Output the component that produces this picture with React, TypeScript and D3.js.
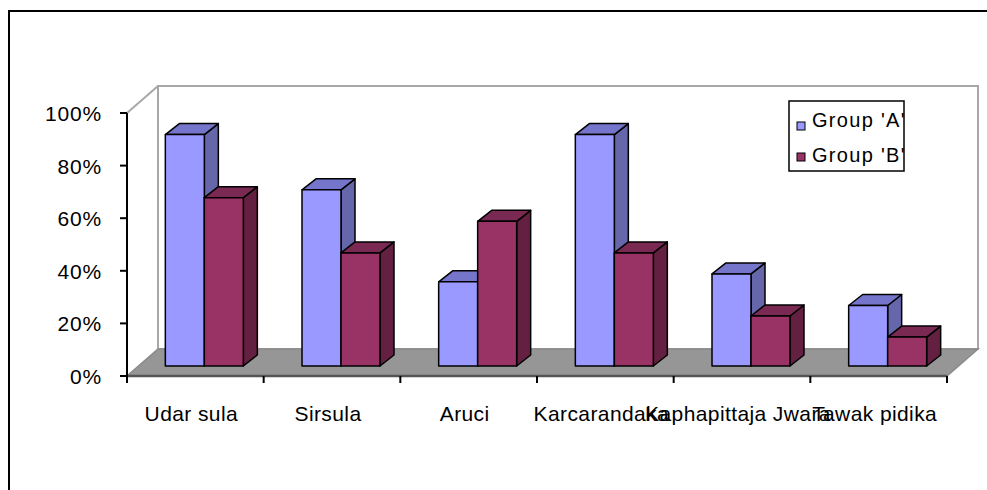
import React from "react"
import * as d3 from "d3"

const categories = ["Udar sula", "Sirsula", "Aruci", "Karcarandaka", "Kaphapittaja Jwara", "Tawak pidika"]
const groupA = [0.88, 0.67, 0.32, 0.88, 0.35, 0.23]
const groupB = [0.64, 0.43, 0.55, 0.43, 0.19, 0.11]
const seriesNames = ["Group 'A'", "Group 'B'"]
const yTicks = [0, 0.2, 0.4, 0.6, 0.8, 1]

const W = 987
const H = 490
const left = 127
const right = 947
const top = 113
const bottom = 376
// depth of the whole plot box
const depthX = 31
const depthY = -27
// where the bar fronts sit inside the depth, and the bar thickness
const barOffX = 9
const barOffY = -10
const barDX = 14
const barDY = -11
const groupWidth = 78

const colors = [
	{ front: "#9999FF", top: "#7575CC", side: "#6666AA" },
	{ front: "#993366", top: "#7A2952", side: "#632040" },
]

const font = "'Liberation Sans', Arial, sans-serif"

export default function App() {
	const x = d3.scaleBand().domain(categories).range([left, right]).padding(0)
	const y = d3.scaleLinear().domain([0, 1]).range([bottom, top])
	const inner = d3.scaleBand().domain(["0", "1"]).range([0, groupWidth]).padding(0)
	const pct = d3.format(".0%")

	const bars = []
	categories.forEach((c, i) => {
		const values = [groupA[i], groupB[i]]
		values.forEach((v, s) => {
			const bx = x(c) + (x.bandwidth() - groupWidth) / 2 + inner(String(s)) + barOffX
			const bw = inner.bandwidth()
			const t = y(v) + barOffY
			const b = y(0) + barOffY
			const col = colors[s]
			const pts = (arr) => arr.map(p => p.join(",")).join(" ")
			bars.push(
				<g key={c + s} stroke="#000" strokeWidth={1.5} strokeLinejoin="round">
					<polygon fill={col.side} points={pts([[bx + bw, t], [bx + bw + barDX, t + barDY], [bx + bw + barDX, b + barDY], [bx + bw, b]])} />
					<polygon fill={col.top} points={pts([[bx, t], [bx + barDX, t + barDY], [bx + bw + barDX, t + barDY], [bx + bw, t]])} />
					<rect x={bx} y={t} width={bw} height={b - t} fill={col.front} />
				</g>
			)
		})
	})

	const boundaries = [...categories.map(c => x(c)), right]

	return (
		<svg width={W} height={H} style={{ position: "absolute", left: 0, top: 0, background: "#fff" }}>
			<rect x={9} y={11} width={1000} height={500} fill="#fff" stroke="#000" strokeWidth={2} />

			{/* walls */}
			<rect x={left + depthX} y={top + depthY} width={right - left} height={bottom - top} fill="#fff" stroke="#a8a8a8" strokeWidth={2} />
			<line x1={left} y1={top} x2={left + depthX} y2={top + depthY} stroke="#a8a8a8" strokeWidth={2} />
			<polygon
				points={`${left},${bottom} ${right},${bottom} ${right + depthX},${bottom + depthY} ${left + depthX},${bottom + depthY}`}
				fill="#969696"
				stroke="#8a8a8a"
				strokeWidth={1.5}
			/>
			<line x1={left} y1={bottom} x2={right} y2={bottom} stroke="#555" strokeWidth={2.5} />

			{bars}

			{/* y axis */}
			<line x1={left} y1={top} x2={left} y2={bottom} stroke="#000" strokeWidth={2} />
			{yTicks.map(t => (
				<g key={t}>
					<line x1={left - 7} x2={left} y1={y(t)} y2={y(t)} stroke="#000" strokeWidth={2} />
					<text x={102} y={y(t) + 8} textAnchor="end" fontFamily={font} fontSize={21} letterSpacing={0.8} fill="#000">
						{pct(t)}
					</text>
				</g>
			))}

			{/* x axis */}
			{boundaries.map((b, i) => (
				<line key={i} x1={b} x2={b} y1={bottom} y2={bottom + 7} stroke="#000" strokeWidth={2} />
			))}
			{categories.map(c => (
				<text key={c} x={x(c) + x.bandwidth() / 2 - 4} y={421} textAnchor="middle" fontFamily={font} fontSize={21} letterSpacing={0.4} fill="#000">
					{c}
				</text>
			))}

			{/* legend */}
			<defs>
				<clipPath id="legclip">
					<rect x={789} y={101} width={115} height={70} />
				</clipPath>
			</defs>
			<rect x={789} y={101} width={115} height={70} fill="#fff" stroke="#000" strokeWidth={1.5} />
			{seriesNames.map((n, i) => (
				<g key={n}>
					<rect x={797} y={122 + i * 31} width={8} height={8} fill={colors[i].front} stroke="#000" strokeWidth={1} />
					<text x={812} y={127 + i * 35} fontFamily={font} fontSize={20} letterSpacing={1.3} fill="#000" clipPath="url(#legclip)">
						{n}
					</text>
				</g>
			))}
		</svg>
	)
}
